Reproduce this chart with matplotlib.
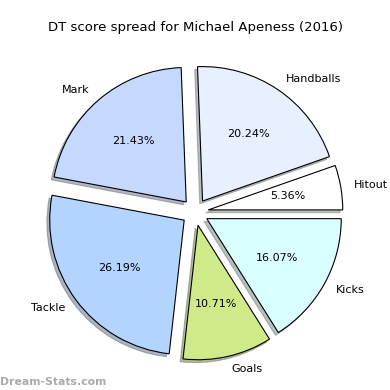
import matplotlib

matplotlib.use("Agg")
import matplotlib.pyplot as plt

labels = ["Kicks", "Goals", "Tackle", "Mark", "Handballs", "Hitout"]
shares = [16.07, 10.71, 26.19, 21.43, 20.24, 5.36]
colors = ["#d9ffff", "#d0ea8a", "#b3d4ff", "#c5d9ff", "#e8f0ff", "#ffffff"]
explode = [0.1] * len(labels)

fig = plt.figure(figsize=(3.9, 3.9), dpi=100)
ax = fig.add_axes([0.069, 0.025, 0.862, 0.862])
wedges, texts, autotexts = ax.pie(
    shares,
    labels=labels,
    colors=colors,
    explode=explode,
    autopct="%.2f%%",
    startangle=0,
    counterclock=False,
    shadow={"ox": -0.015, "oy": -0.015, "shade": 0.5},
    wedgeprops={"edgecolor": "black", "linewidth": 0.8},
    textprops={"fontsize": 8},
)
ax.set_aspect("equal")
fig.suptitle("DT score spread for Michael Apeness (2016)", fontsize=9.5, y=0.945)
fig.text(0.0, 0.012, "Dream-Stats.com", color="#aaaaaa", fontsize=7.8, fontweight="semibold")

fig.savefig("out.png", dpi=100)
plt.close(fig)
